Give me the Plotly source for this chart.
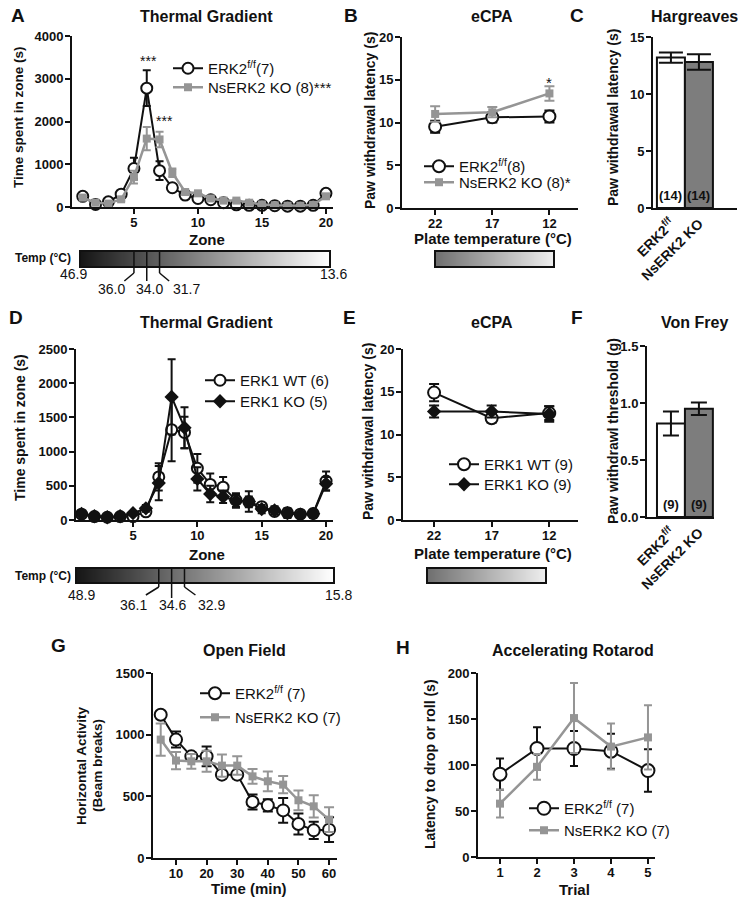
import plotly.graph_objects as go

W, H = 738, 900
FONT = "Liberation Sans, Arial, Helvetica, sans-serif"
GRAY = "#959595"
BLACK = "#111111"
DARKBAR = "#7d7d7d"

# ---------------- data ----------------
# A: Thermal gradient, ERK2
zones = list(range(1, 21))
a_wt = [250, 60, 120, 300, 900, 2780, 850, 450, 280, 200, 170, 100, 50, 40, 40, 30, 20, 20, 40, 320]
a_wt_err = [30, 20, 20, 40, 250, 420, 220, 80, 50, 40, 30, 20, 15, 15, 15, 10, 10, 10, 15, 60]
a_ko = [220, 100, 80, 180, 700, 1600, 1580, 800, 350, 320, 200, 150, 150, 100, 60, 40, 30, 30, 50, 250]
a_ko_err = [30, 20, 20, 40, 150, 270, 180, 100, 50, 40, 30, 25, 25, 20, 15, 10, 10, 10, 15, 50]
a_temp_ends = [46.9, 13.6]
a_mark_zones = [5, 6, 7]
a_mark_labels = ["36.0", "34.0", "31.7"]

# B: eCPA, ERK2
plate_temps = ["22", "17", "12"]
b_wt = [9.5, 10.6, 10.7]
b_wt_err = [0.7, 0.6, 0.7]
b_ko = [11.0, 11.2, 13.4]
b_ko_err = [0.9, 0.6, 0.85]
b_temp_ends = [22, 12]

# C: Hargreaves
genotypes = ["ERK2<sup>f/f</sup>", "NsERK2 KO"]
c_vals = [13.2, 12.8]
c_err = [0.45, 0.68]
c_n = ["(14)", "(14)"]

# D: Thermal gradient, ERK1
d_wt = [85, 50, 40, 50, 50, 120, 630, 1320, 1280, 755, 520, 480, 290, 265, 195, 125, 105, 85, 95, 570]
d_wt_err = [20, 15, 15, 15, 20, 40, 200, 460, 230, 210, 160, 150, 100, 80, 40, 50, 60, 30, 50, 140]
d_ko = [90, 55, 40, 55, 100, 170, 540, 1800, 1350, 600, 380, 340, 280, 270, 160, 140, 100, 80, 90, 530]
d_ko_err = [20, 15, 15, 15, 30, 50, 250, 550, 300, 170, 120, 90, 100, 150, 60, 60, 70, 30, 60, 100]
d_temp_ends = [48.9, 15.8]
d_mark_zones = [7, 8, 9]
d_mark_labels = ["36.1", "34.6", "32.9"]

# E: eCPA, ERK1
e_wt = [14.9, 11.9, 12.5]
e_wt_err = [1.0, 0.5, 0.8]
e_ko = [12.7, 12.7, 12.4]
e_ko_err = [0.7, 0.7, 0.9]

# F: Von Frey
f_vals = [0.82, 0.95]
f_err = [0.105, 0.055]
f_n = ["(9)", "(9)"]

# G: Open field
times = [5, 10, 15, 20, 25, 30, 35, 40, 45, 50, 55, 60]
g_wt = [1162, 960, 824, 824, 676, 676, 454, 427, 386, 276, 224, 230]
g_wt_err = [25, 65, 30, 80, 30, 30, 60, 50, 100, 85, 70, 100]
g_ko = [960, 790, 784, 784, 749, 749, 662, 622, 595, 468, 419, 311]
g_ko_err = [130, 70, 60, 85, 90, 75, 60, 80, 70, 80, 90, 100]

# H: Rotarod
trials = [1, 2, 3, 4, 5]
h_wt = [90, 118, 118, 115, 94]
h_wt_err = [17, 23, 19, 19, 23]
h_ko = [58, 98, 151, 120, 130]
h_ko_err = [15, 14, 38, 25, 35]


# ---------------- helpers ----------------
def px(x):
    return x / W


def py(y):
    return 1 - y / H


def dom_x(a, b):
    return [a / W, b / W]


def dom_y(top, bottom):
    return [1 - bottom / H, 1 - top / H]


def err(arr, color, cap):
    return dict(type="data", array=arr, visible=True, color=color, thickness=2, width=cap)


fig = go.Figure()


def open_circle(x, y, e, n, lg, name, size=11, cap=4):
    fig.add_trace(go.Scatter(
        x=x, y=y, error_y=err(e, BLACK, cap), mode="lines+markers", name=name,
        line=dict(color=BLACK, width=2),
        marker=dict(symbol="circle", size=size, color="white", line=dict(color=BLACK, width=2)),
        xaxis="x" + n, yaxis="y" + n, legend=lg, cliponaxis=False))


def gray_square(x, y, e, n, lg, name, size=8, cap=4):
    fig.add_trace(go.Scatter(
        x=x, y=y, error_y=err(e, GRAY, cap), mode="lines+markers", name=name,
        line=dict(color=GRAY, width=2.5),
        marker=dict(symbol="square", size=size, color=GRAY, line=dict(width=0)),
        xaxis="x" + n, yaxis="y" + n, legend=lg, cliponaxis=False))


def black_diamond(x, y, e, n, lg, name, size=11, cap=4):
    fig.add_trace(go.Scatter(
        x=x, y=y, error_y=err(e, BLACK, cap), mode="lines+markers", name=name,
        line=dict(color=BLACK, width=2),
        marker=dict(symbol="diamond", size=size, color=BLACK, line=dict(width=0)),
        xaxis="x" + n, yaxis="y" + n, legend=lg, cliponaxis=False))


# A
open_circle(zones, a_wt, a_wt_err, "", "legend", "ERK2<sup>f/f</sup>(7)")
gray_square(zones, a_ko, a_ko_err, "", "legend2", "NsERK2 KO (8)***")
# B
open_circle(plate_temps, b_wt, b_wt_err, "2", "legend3", "ERK2<sup>f/f</sup>(8)", size=12, cap=5)
gray_square(plate_temps, b_ko, b_ko_err, "2", "legend4", "NsERK2 KO (8)*", cap=5)
# C
fig.add_trace(go.Bar(
    x=genotypes, y=c_vals, width=1, error_y=err(c_err, BLACK, 12),
    marker=dict(color=["white", DARKBAR], line=dict(color=BLACK, width=2)),
    xaxis="x3", yaxis="y3", showlegend=False))
# D
open_circle(zones, d_wt, d_wt_err, "4", "legend5", "ERK1 WT (6)")
black_diamond(zones, d_ko, d_ko_err, "4", "legend6", "ERK1 KO (5)")
# E
open_circle(plate_temps, e_wt, e_wt_err, "5", "legend7", "ERK1 WT (9)", size=12, cap=5)
black_diamond(plate_temps, e_ko, e_ko_err, "5", "legend8", "ERK1 KO (9)", cap=5)
# F
fig.add_trace(go.Bar(
    x=genotypes, y=f_vals, width=1, error_y=err(f_err, BLACK, 8),
    marker=dict(color=["white", DARKBAR], line=dict(color=BLACK, width=2)),
    xaxis="x6", yaxis="y6", showlegend=False))
# G
open_circle(times, g_wt, g_wt_err, "7", "legend9", "ERK2<sup>f/f</sup> (7)", size=12, cap=5)
gray_square(times, g_ko, g_ko_err, "7", "legend10", "NsERK2 KO (7)", cap=5)
# H
open_circle(trials, h_wt, h_wt_err, "8", "legend11", "ERK2<sup>f/f</sup> (7)", size=13, cap=4)
gray_square(trials, h_ko, h_ko_err, "8", "legend12", "NsERK2 KO (7)", cap=4)

# temperature gradient bars
fig.add_trace(go.Heatmap(z=[a_temp_ends], x=[0, 1], y=[0], zsmooth="best", showscale=False,
                         colorscale=[[0, "#ffffff"], [1, "#161616"]], hoverinfo="skip",
                         xaxis="x9", yaxis="y9"))
fig.add_trace(go.Heatmap(z=[b_temp_ends], x=[0, 1], y=[0], zsmooth="best", showscale=False,
                         colorscale=[[0, "#eeeeee"], [1, "#707070"]], hoverinfo="skip",
                         xaxis="x10", yaxis="y10"))
fig.add_trace(go.Heatmap(z=[d_temp_ends], x=[0, 1], y=[0], zsmooth="best", showscale=False,
                         colorscale=[[0, "#ffffff"], [1, "#161616"]], hoverinfo="skip",
                         xaxis="x11", yaxis="y11"))
fig.add_trace(go.Heatmap(z=[b_temp_ends], x=[0, 1], y=[0], zsmooth="best", showscale=False,
                         colorscale=[[0, "#eeeeee"], [1, "#707070"]], hoverinfo="skip",
                         xaxis="x12", yaxis="y12"))

# ---------------- axes ----------------
TICKFONT = dict(family=FONT, size=13, color=BLACK, weight="bold")
base = dict(showline=True, linecolor=BLACK, linewidth=2, ticks="outside", ticklen=5,
            tickwidth=2, tickcolor=BLACK, showgrid=False, zeroline=False, tickfont=TICKFONT,
            fixedrange=True, automargin=False)


def add_axes(n, xd, yd, xr, yr, xkw=None, ykw=None):
    xk = "xaxis" + n
    yk = "yaxis" + n
    xa = dict(base, domain=xd, range=xr, anchor="y" + n, ticklabelstandoff=-3)
    ya = dict(base, domain=yd, range=yr, anchor="x" + n, ticklabelstandoff=-1)
    if xkw:
        xa.update(xkw)
    if ykw:
        ya.update(ykw)
    fig.update_layout(**{xk: xa, yk: ya})


add_axes("", dom_x(72, 333), dom_y(36, 207), [0.16, 20.55], [0, 4000],
         dict(tickvals=[5, 10, 15, 20]), dict(dtick=1000))
add_axes("2", dom_x(402, 578), dom_y(37, 208), [-0.58, 2.5], [0, 20],
         dict(type="category"), dict(dtick=5))
add_axes("3", dom_x(653, 737), dom_y(37, 208), [-0.64, 2.36], [0, 15],
         dict(type="category", tickangle=-45, ticks="", ticklabelstandoff=0,
              tickfont=dict(TICKFONT, size=14)),
         dict(dtick=5))
add_axes("4", dom_x(76, 333), dom_y(349, 520), [0.57, 20.54], [0, 2500],
         dict(tickvals=[5, 10, 15, 20]), dict(dtick=500))
add_axes("5", dom_x(403, 578), dom_y(349, 520), [-0.54, 2.5], [0, 20],
         dict(type="category"), dict(dtick=5))
add_axes("6", dom_x(647, 714), dom_y(346, 517), [-0.857, 1.54], [0, 1.5],
         dict(type="category", tickangle=-45, ticks="", ticklabelstandoff=0,
              tickfont=dict(TICKFONT, size=14)),
         dict(tickvals=[0, 0.5, 1.0, 1.5], ticktext=["0.0", "0.5", "1.0", "1.5"]))
add_axes("7", dom_x(153, 337), dom_y(673, 858), [2.48, 62.6], [0, 1500],
         dict(tickvals=[10, 20, 30, 40, 50, 60]), dict(dtick=500))
add_axes("8", dom_x(478, 655), dom_y(673, 857), [0.405, 5.19], [0, 200],
         dict(dtick=1), dict(dtick=50))

grad = dict(showline=True, mirror=True, linecolor=BLACK, linewidth=1.5, ticks="",
            showticklabels=False, showgrid=False, zeroline=False, fixedrange=True,
            automargin=False)
for n, xd, yd in [("9", dom_x(81, 329), dom_y(252, 266)),
                  ("10", dom_x(436, 553), dom_y(252, 266)),
                  ("11", dom_x(77, 333), dom_y(569, 582)),
                  ("12", dom_x(428, 545), dom_y(569, 582))]:
    fig.update_layout(**{
        "xaxis" + n: dict(grad, domain=xd, range=[0, 1], anchor="y" + n),
        "yaxis" + n: dict(grad, domain=yd, range=[-0.5, 0.5], anchor="x" + n),
    })

# ---------------- annotations ----------------
ann = []


def txt(x, y, s, size=13, bold=True, angle=0, xanchor="center", yanchor="middle"):
    ann.append(dict(x=px(x), y=py(y), xref="paper", yref="paper", text=s, showarrow=False,
                    textangle=angle, xanchor=xanchor, yanchor=yanchor,
                    font=dict(family=FONT, size=size, color=BLACK,
                              weight="bold" if bold else "normal")))


# panel letters
for letter, x, y in [("A", 18, 15), ("B", 351, 15), ("C", 577, 15), ("D", 16, 318),
                     ("E", 349, 318), ("F", 577, 318), ("G", 58, 645), ("H", 403, 647)]:
    txt(x, y, letter, size=19)

# titles
for s, x, y in [("Thermal Gradient", 206, 17), ("eCPA", 492, 17), ("Hargreaves", 694, 17),
                ("Thermal Gradient", 206, 322), ("eCPA", 492, 322), ("Von Frey", 694, 322),
                ("Open Field", 245, 650), ("Accelerating Rotarod", 573, 650)]:
    txt(x, y, s, size=16)

# y-axis titles
for s, x, y, sz in [("Time spent in zone (s)", 18, 117, 13.5),
                    ("Paw withdrawal latency (s)", 370, 120, 14),
                    ("Paw withdrawal latency (s)", 613, 118, 14),
                    ("Time spent in zone (s)", 20, 428, 14),
                    ("Paw withdrawal latency (s)", 368, 432, 14),
                    ("Paw withdrawl threshold (g)", 613, 431, 14),
                    ("Latency to drop or roll (s)", 430, 764, 14)]:
    txt(x, y, s, size=sz, angle=-90)
txt(81, 766, "Horizontal Activity", size=13.5, angle=-90)
txt(97, 766, "(Beam breaks)", size=13.5, angle=-90)

# x-axis titles
for s, x, y in [("Zone", 207, 240), ("Plate temperature (°C)", 493, 238), ("Zone", 207, 554),
                ("Plate temperature (°C)", 493, 553), ("Time (min)", 249, 888), ("Trial", 574, 889)]:
    txt(x, y, s, size=15)

# temperature scale labels
txt(43, 258, "Temp (°C)", size=12)
txt(43, 576, "Temp (°C)", size=12)
txt(73, 274, f"{a_temp_ends[0]}", size=14, bold=False)
txt(333, 274, f"{a_temp_ends[1]}", size=14, bold=False)
for s, x in zip(a_mark_labels, [111, 149, 186]):
    txt(x, 289, s, size=14, bold=False)
txt(81, 595, f"{d_temp_ends[0]}", size=14, bold=False)
txt(338, 595, f"{d_temp_ends[1]}", size=14, bold=False)
for s, x in zip(d_mark_labels, [133, 172, 211]):
    txt(x, 605, s, size=14, bold=False)

# significance stars
ann.append(dict(x=6.1, y=3420, xref="x", yref="y", text="***", showarrow=False,
                font=dict(family=FONT, size=14, color=BLACK)))
ann.append(dict(x=7.4, y=2020, xref="x", yref="y", text="***", showarrow=False,
                font=dict(family=FONT, size=14, color=BLACK)))
ann.append(dict(x=2, y=14.7, xref="x2", yref="y2", text="*", showarrow=False,
                font=dict(family=FONT, size=15, color=BLACK)))

# n labels in bars
for i, s in enumerate(c_n):
    ann.append(dict(x=i, y=0, xref="x3", yref="y3", text=s, showarrow=False, yanchor="bottom",
                    yshift=3, font=dict(family=FONT, size=13, color=BLACK, weight="bold")))
for i, s in enumerate(f_n):
    ann.append(dict(x=i, y=0, xref="x6", yref="y6", text=s, showarrow=False, yanchor="bottom",
                    yshift=3, font=dict(family=FONT, size=13, color=BLACK, weight="bold")))

# leader lines from temperature scale marks
shapes = []


def seg(xref, x0, y0, x1, y1):
    shapes.append(dict(type="line", xref=xref, yref="paper", x0=x0, x1=x1, y0=py(y0), y1=py(y1),
                       line=dict(color=BLACK, width=1.5)))


z5, z6, z7 = a_mark_zones
seg("x", z5, 252, z5, 273)
seg("x", z5, 273, z5 - 0.75, 281)
seg("x", z6, 252, z6, 281)
seg("x", z7, 252, z7, 273)
seg("x", z7, 273, z7 + 0.75, 281)
d7, d8, d9 = d_mark_zones
seg("x4", d7, 569, d7, 587)
seg("x4", d7, 587, d7 - 1.0, 595)
seg("x4", d8, 569, d8, 598)
seg("x4", d9, 569, d9, 587)
seg("x4", d9, 587, d9 + 0.85, 595)


# ---------------- legends (one entry each, placed row by row) ----------------
def leg(x, row_center, size=15):
    return dict(x=px(x), y=py(row_center - 16), xanchor="left", yanchor="top",
                bgcolor="rgba(0,0,0,0)", borderwidth=0, itemwidth=30, tracegroupgap=0,
                font=dict(family=FONT, size=size, color=BLACK))


fig.update_layout(
    template="none", autosize=False,
    width=W, height=H, margin=dict(l=0, r=0, t=0, b=0, pad=0, autoexpand=False),
    paper_bgcolor="white", plot_bgcolor="white",
    font=dict(family=FONT, color=BLACK),
    annotations=ann, shapes=shapes,
    legend=leg(168, 68), legend2=leg(168, 87),
    legend3=leg(419, 166), legend4=leg(419, 182),
    legend5=leg(200, 380), legend6=leg(200, 401),
    legend7=leg(444, 464), legend8=leg(444, 484),
    legend9=leg(195, 693), legend10=leg(195, 717),
    legend11=leg(524, 808), legend12=leg(524, 830),
)

fig.write_html("out.html", config={"displayModeBar": False},
               post_script="document.body.style.margin='0';document.body.style.padding='0';")
